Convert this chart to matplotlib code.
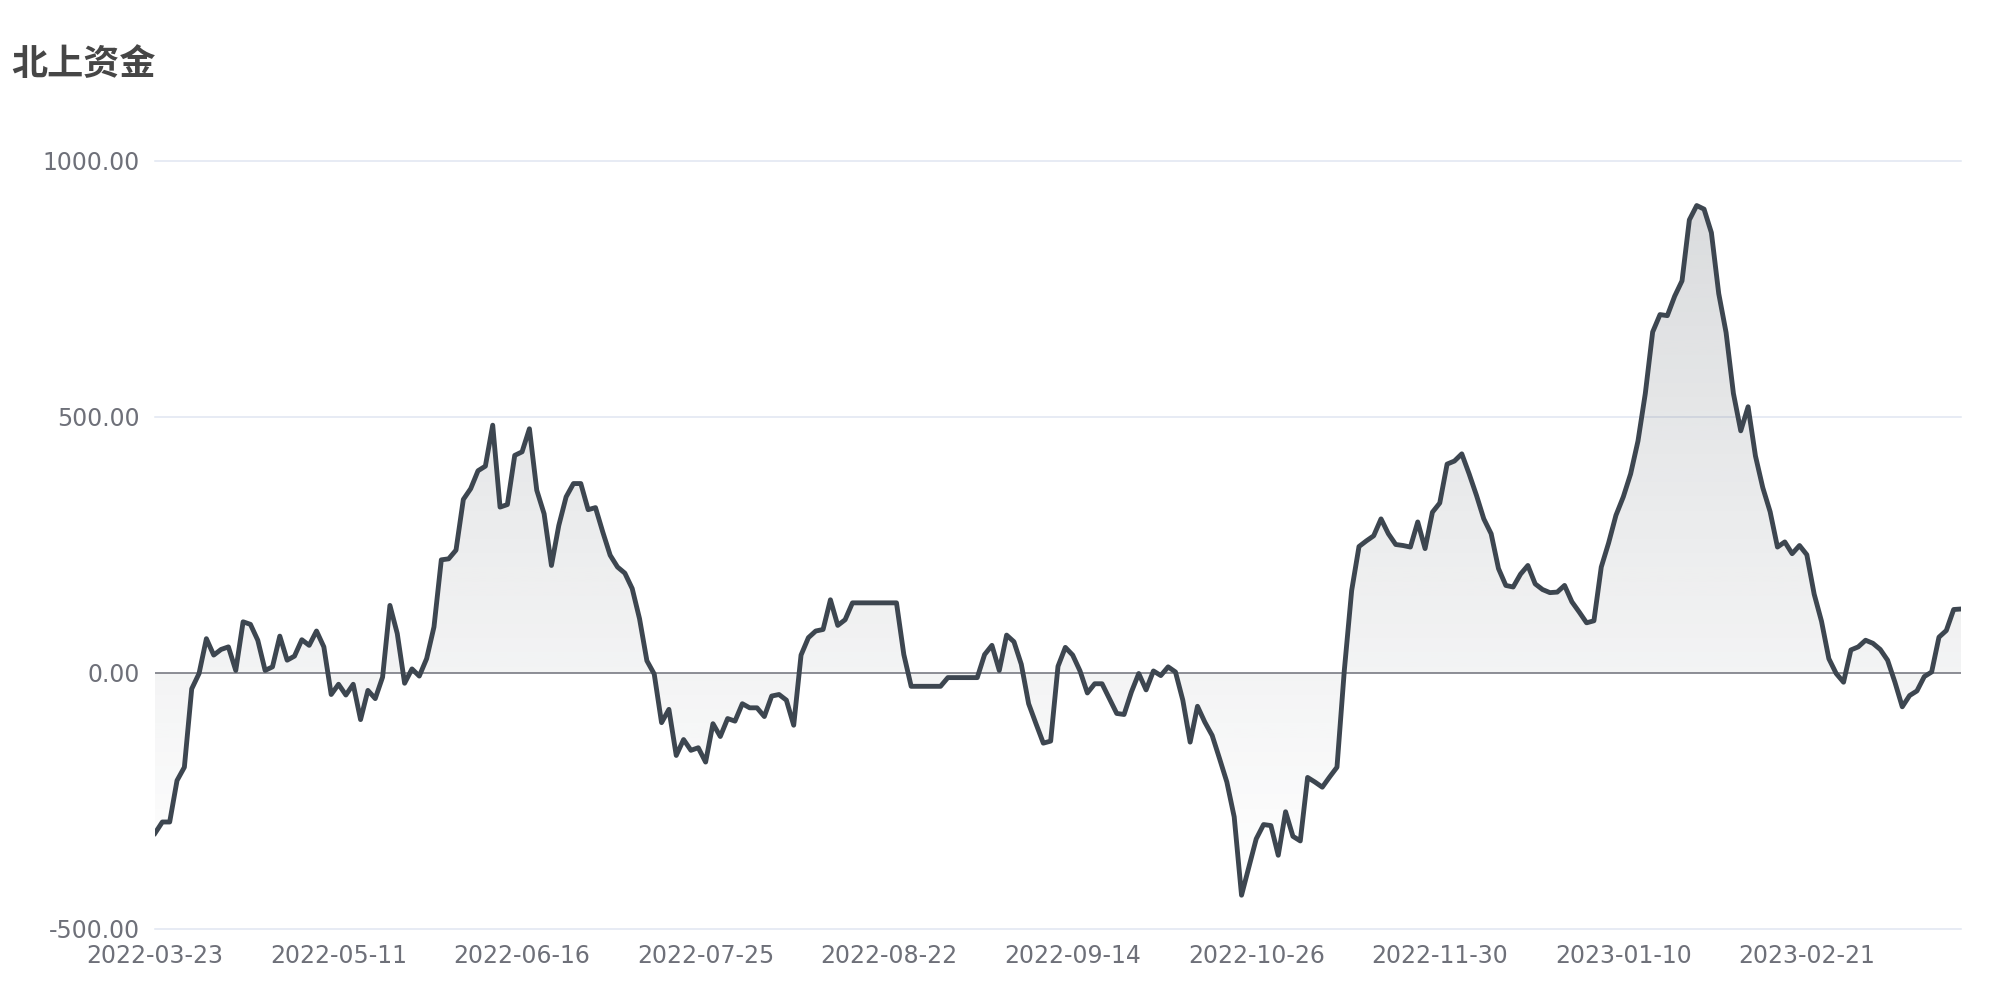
import numpy as np
import matplotlib
matplotlib.use("Agg")
import matplotlib.pyplot as plt
from matplotlib.patches import PathPatch
from matplotlib.ticker import FuncFormatter

plt.rcParams['font.family'] = ['DejaVu Sans', 'Noto Sans CJK SC']

# north-bound flow, one value per trading day
flow = [
    -313, -291, -291, -210, -184, -31, -1, 67, 35, 46,
    51, 5, 100, 95, 64, 5, 12, 72, 25, 33,
    65, 54, 82, 51, -42, -22, -43, -22, -91, -34,
    -50, -8, 132, 77, -20, 8, -6, 28, 90, 221,
    223, 240, 339, 360, 395, 404, 484, 324, 329, 425,
    432, 477, 357, 311, 210, 288, 344, 370, 370, 319,
    323, 275, 230, 207, 195, 165, 106, 24, -2, -97,
    -71, -161, -130, -151, -146, -174, -99, -124, -89, -94,
    -60, -68, -68, -85, -45, -42, -53, -102, 35, 69,
    82, 85, 143, 93, 104, 137, 137, 137, 137, 137,
    137, 137, 36, -26, -26, -26, -26, -26, -9, -9,
    -9, -9, -9, 36, 54, 5, 74, 61, 17, -60,
    -99, -137, -133, 13, 50, 35, 4, -39, -21, -21,
    -50, -79, -81, -37, -1, -33, 4, -5, 12, 2,
    -53, -135, -65, -96, -122, -167, -213, -281, -434, -379,
    -324, -296, -298, -356, -271, -319, -328, -204, -213, -223,
    -203, -184, 5, 161, 247, 258, 268, 301, 272, 251,
    249, 246, 295, 243, 314, 332, 408, 414, 428, 389,
    347, 301, 272, 204, 171, 168, 193, 210, 174, 163,
    157, 158, 171, 139, 119, 98, 102, 207, 254, 308,
    344, 389, 453, 546, 666, 700, 698, 736, 766, 885,
    913, 906, 860, 741, 665, 546, 473, 520, 424, 362,
    315, 246, 256, 233, 249, 231, 154, 101, 28, -1,
    -18, 45, 51, 64, 58, 46, 25, -18, -66, -44,
    -35, -7, 2, 70, 83, 124, 125,
]

date_labels = ["2022-03-23", "2022-05-11", "2022-06-16", "2022-07-25", "2022-08-22",
               "2022-09-14", "2022-10-26", "2022-11-30", "2023-01-10", "2023-02-21"]
label_step = 25
y_ticks = [-500, 0, 500, 1000]

line_col = '#3d4650'
text_col = '#6E7079'
grid_col = '#E0E6F1'

x = np.arange(len(flow))
y = np.array(flow, dtype=float)

fig = plt.figure(figsize=(20, 10), dpi=100)
ax = fig.add_axes([0.0775, 0.071, 0.903, 0.768])

#gridlines
for t in y_ticks:
    if t == 0:
        continue
    ax.axhline(t, color=grid_col, lw=1.1, zorder=0, clip_on=False)

#area with vertical gradient, clipped to the fill polygon
poly = ax.fill_between(x, y, 0, facecolor='none', edgecolor='none')
patch = PathPatch(poly.get_paths()[0], transform=ax.transData,
                  facecolor='none', edgecolor='none')
ax.add_patch(patch)
grad = np.zeros((256, 1, 4))
grad[:, 0, 0] = 61 / 255
grad[:, 0, 1] = 70 / 255
grad[:, 0, 2] = 80 / 255
grad[:, 0, 3] = np.linspace(0.19, 0.0, 256)
im = ax.imshow(grad, extent=[0, len(flow) - 1, y.min(), y.max()],
               origin='upper', aspect='auto', zorder=1, interpolation='bilinear')
im.set_clip_path(patch)
ax.set_xlim(0, len(flow) - 1)
ax.set_ylim(-500, 1000)

ax.axhline(0, color=text_col, lw=1.1, zorder=2)
ax.plot(x, y, color=line_col, lw=3.5, zorder=3)

for s in ax.spines.values():
    s.set_visible(False)

ax.set_yticks(y_ticks)
ax.yaxis.set_major_formatter(FuncFormatter(lambda v, p: f'{v:.2f}'))
ax.set_xticks(np.arange(0, len(flow), label_step)[:len(date_labels)])
ax.set_xticklabels(date_labels)
ax.tick_params(axis='both', length=0, labelsize=17, labelcolor=text_col)
ax.tick_params(axis='y', pad=11)
ax.tick_params(axis='x', pad=11)

fig.text(0.0055, 0.935, "北上资金", family=['Noto Sans CJK SC', 'DejaVu Sans'],
         fontsize=26, fontweight='bold', color='#464646', va='center', ha='left')

fig.savefig("out.png", dpi=100, facecolor='white')
